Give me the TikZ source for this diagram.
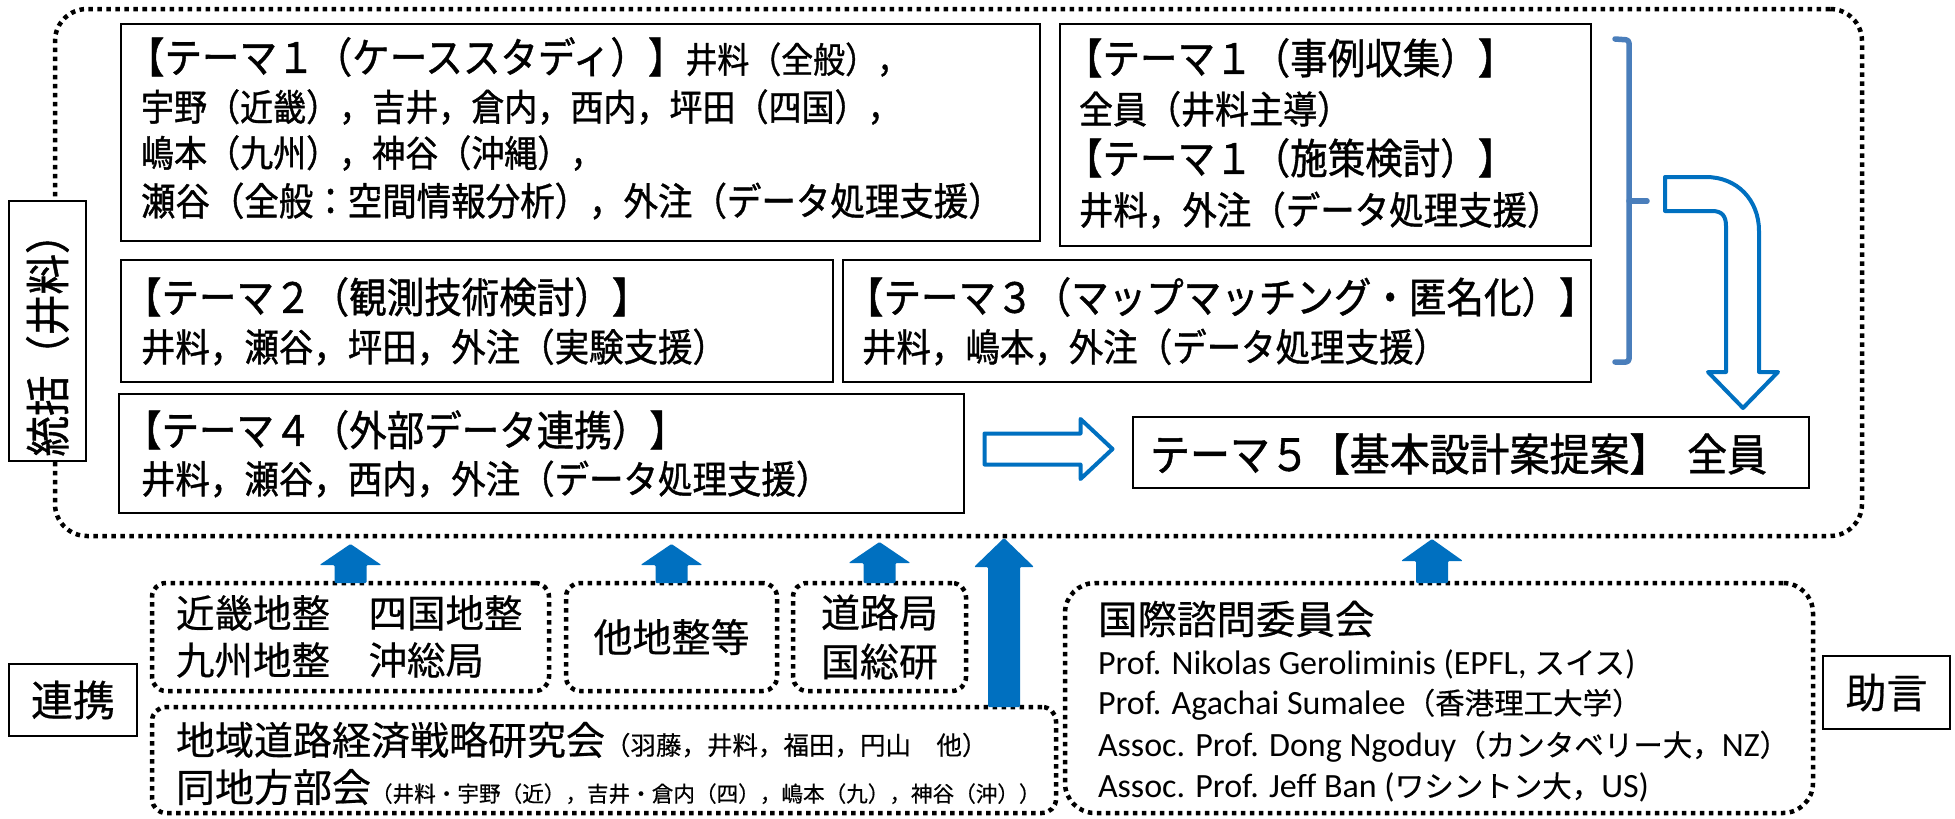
\documentclass[tikz,border=0pt]{standalone}
\usepackage{fontspec}
\setmainfont{Noto Sans CJK JP}[FakeBold=0.5]
\newfontfamily\jpf{Noto Sans CJK JP}[FakeBold=0.4]
\newfontfamily\jpt{Noto Sans CJK JP}[FakeStretch=0.9,FakeBold=1.0]
\newfontfamily\enf{Carlito}
\usetikzlibrary{calc}
\definecolor{ablue}{HTML}{0070C0}
\definecolor{bblue}{HTML}{4A7EBB}
\newcommand{\setfs}[1]{\fontsize{#1pt}{#1pt}\selectfont}
% filled up-arrow: #1 base point, #2 tip point, #3 shaft half width, #4 head half width, #5 head length
\newcommand{\bluearr}[5]{%
  \fill[ablue, rounded corners=1.2pt] let \p1=(#1), \p2=(#2) in
   (\x1-#3,\y1) -- (\x1-#3,\y2-#5) -- (\x1-#4,\y2-#5) -- (\x1,\y2) --
   (\x1+#4,\y2-#5) -- (\x1+#3,\y2-#5) -- (\x1+#3,\y1) -- cycle;}
\tikzset{
  solidbox/.style={draw=black, line width=2.8pt, inner sep=0pt, outer sep=0pt, anchor=north west},
  dotbox/.style={draw=black, line width=4.5pt, dash pattern=on 4.5pt off 4.5pt, rounded corners=14pt, inner sep=0pt, outer sep=0pt, anchor=north west},
  txt/.style={inner sep=0pt, outer sep=0pt, anchor=west},
  ttxt/.style={inner sep=0pt, outer sep=0pt, anchor=west, font=\jpt},
  openarr/.style={draw=ablue, line width=4pt, fill=white, line join=round},
}
\begin{document}
\begin{tikzpicture}[x=1pt,y=-1pt]
\useasboundingbox (0,0) rectangle (1955,819);
\fill[white] (0,0) rectangle (1955,819);

% outer dotted frame
\node[dotbox, rounded corners=32pt, minimum width=1807pt, minimum height=527pt] (outer) at (55,9) {};
% side label
\node[solidbox, fill=white, minimum width=77pt, minimum height=260pt] (tok) at (9,201) {};
\node[inner sep=0pt, rotate=90, font=\jpt] (tokt) at ($(tok.center)+(0,4)$) {\setfs{45}統括（井料）};

% theme boxes
\node[solidbox, minimum width=919pt, minimum height=217pt] (t1) at (121,24) {};
\node[solidbox, minimum width=531pt, minimum height=222pt] (r1) at (1060,24) {};
\node[solidbox, minimum width=712pt, minimum height=122pt] (t2) at (121,260) {};
\node[solidbox, minimum width=748pt, minimum height=122pt] (t3) at (843,260) {};
\node[solidbox, minimum width=845pt, minimum height=119pt] (t4) at (119,394) {};
\node[solidbox, minimum width=676pt, minimum height=71pt] (t5) at (1133,417) {};

\node[ttxt] (t1a) at (127,57) {\setfs{41.7}【テーマ１（ケーススタディ）】\setfs{35.5}井料（全般），};
\node[ttxt] (t1b) at (141,107) {\setfs{36.7}宇野（近畿），吉井，倉内，西内，坪田（四国），};
\node[ttxt] (t1c) at (141,153) {\setfs{36.7}嶋本（九州），神谷（沖縄），};
\node[ttxt] (t1d) at (141,201) {\setfs{38.3}瀬谷（全般：空間情報分析），外注（データ処理支援）};

\node[ttxt] (r1a) at (1065,58) {\setfs{41.7}【テーマ１（事例収集）】};
\node[ttxt] (r1b) at (1079,109) {\setfs{37.8}全員（井料主導）};
\node[ttxt] (r1c) at (1065,158) {\setfs{41.7}【テーマ１（施策検討）】};
\node[ttxt] (r1d) at (1079,210) {\setfs{38.3}井料，外注（データ処理支援）};

\node[ttxt] (t2a) at (124,297) {\setfs{41.7}【テーマ２（観測技術検討）】};
\node[ttxt] (t2b) at (141,347) {\setfs{38.3}井料，瀬谷，坪田，外注（実験支援）};
\node[ttxt] (t3a) at (846,297) {\setfs{41.7}【テーマ３（マップマッチング・匿名化）】};
\node[ttxt] (t3b) at (862,347) {\setfs{38.3}井料，嶋本，外注（データ処理支援）};
\node[ttxt] (t4a) at (124,430) {\setfs{41.7}【テーマ４（外部データ連携）】};
\node[ttxt] (t4b) at (141,479) {\setfs{38.3}井料，瀬谷，西内，外注（データ処理支援）};
\node[ttxt] (t5a) at (1150,454) {\setfs{44.4}テーマ５【基本設計案提案】\hspace{0.4em}全員};

% bracket
\draw[bblue, line width=5.5pt, line cap=round, line join=round, rounded corners=3pt]
  (1615,39) -- (1629,40) -- (1629,362) -- (1615,362);
\draw[bblue, line width=5.5pt, line cap=round] (1629,201) -- (1647,201);

% bent open arrow to theme 5
\draw[openarr] (1665,177) -- (1706,177) .. controls (1737,177) and (1759,200) .. (1759,231)
  -- (1759,372) -- (1778,372) -- (1743,408) -- (1708,372) -- (1726,372) -- (1726,226)
  .. controls (1726,216) and (1722,211) .. (1712,211) -- (1665,211) -- cycle;

% open right arrow theme 4 -> theme 5
\draw[openarr] let \p1=($(t4.east)!0.5!(t5.west)+(0,-4)$) in
  (\x1-64pt,\y1+15.5pt) -- (\x1+32pt,\y1+15.5pt) -- (\x1+32pt,\y1+30pt) -- (\x1+64pt,\y1)
  -- (\x1+32pt,\y1-30pt) -- (\x1+32pt,\y1-15.5pt) -- (\x1-64pt,\y1-15.5pt) -- cycle;

% lower boxes
\node[dotbox, minimum width=397pt, minimum height=108pt] (bA) at (152,583) {};
\node[dotbox, minimum width=211pt, minimum height=108pt] (bB) at (566,583) {};
\node[dotbox, minimum width=173pt, minimum height=108pt] (bC) at (793,583) {};
\node[dotbox, minimum width=904pt, minimum height=106pt] (bD) at (152,707) {};
\node[dotbox, rounded corners=30pt, minimum width=748pt, minimum height=230pt] (bE) at (1065,583) {};
\node[solidbox, minimum width=128pt, minimum height=72pt] (renkei) at (9,664) {};
\node[solidbox, minimum width=127pt, minimum height=73pt] (jogen) at (1823,656) {};

\node[txt] (tA1) at (176,613) {\setfs{38.5}近畿地整　四国地整};
\node[txt] (tA2) at (176,660) {\setfs{38.5}九州地整　沖総局};
\node[inner sep=0pt] (tB) at (bB.center) {\setfs{39}他地整等};
\node[inner sep=0pt, align=center, font=\fontsize{39pt}{49pt}\selectfont] (tC) at (bC.center) {道路局\\国総研};
\node[txt] (tD1) at (176,740) {\setfs{39}地域道路経済戦略研究会{\setfs{25.5}（羽藤，井料，福田，円山　他）}};
\node[txt] (tD2) at (176,787) {\setfs{39}同地方部会{\setfs{21.6}（井料・宇野（近），吉井・倉内（四），嶋本（九），神谷（沖））}};

\node[txt] (tE0) at (1098,619) {\setfs{39.5}国際諮問委員会};
\node[txt, anchor=base west] (tE1) at (1098,674) {\enf\setfs{34}Prof. Nikolas Geroliminis (EPFL, {\jpf\setfs{30.5}スイス})};
\node[txt, anchor=base west] (tE2) at (1098,714) {\enf\setfs{34}Prof. Agachai Sumalee{\jpf\setfs{29.5}（香港理工大学）}};
\node[txt, anchor=base west] (tE3) at (1098,756) {\enf\setfs{34}Assoc. Prof. Dong Ngoduy{\jpf\setfs{29.5}（カンタベリー大，}NZ{\jpf\setfs{29.5}）}};
\node[txt, anchor=base west] (tE4) at (1098,797) {\enf\setfs{34}Assoc. Prof. Jeff Ban ({\jpf\setfs{29.5}ワシントン大，}US)};

\node[inner sep=0pt] (tR) at (renkei.center) {\setfs{42}連携};
\node[inner sep=0pt] (tJ) at (jogen.center) {\setfs{41}助言};

% upward block arrows into the frame
\bluearr{bA.north}{$(outer.south)+(0,8)$}{16pt}{31pt}{21pt}
\bluearr{bB.north}{$(outer.south)+(0,8)$}{16pt}{31pt}{21pt}
\bluearr{bC.north}{$(outer.south)+(0,6)$}{16pt}{31pt}{21pt}
\bluearr{$(bD.north east)+(-52,0)$}{$(outer.south)+(0,2)$}{16pt}{30pt}{29pt}
\bluearr{$(bE.north)+(-7,0)$}{$(outer.south)+(0,3)$}{16pt}{31pt}{22pt}
\end{tikzpicture}
\end{document}
